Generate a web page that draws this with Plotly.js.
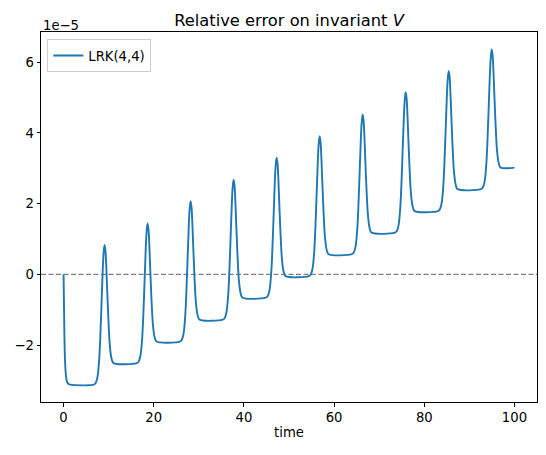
<!DOCTYPE html>
<html>
<head>
<meta charset="utf-8">
<script src="https://cdn.plot.ly/plotly-3.0.1.min.js"></script>
<style>html,body{margin:0;padding:0;background:#fff;}#chart{width:546px;height:455px;}</style>
</head>
<body>
<div id="chart"></div>
<script>
// time values
const time = [
  0, 0.1, 0.2, 0.35, 0.55, 0.8, 1.1, 1.5,
  6.70, 7.10, 7.50, 7.90, 8.30, 8.70, 8.90, 9.10, 9.30, 9.50, 9.90, 10.30, 10.70, 11.10,
  16.24, 16.64, 17.04, 17.44, 17.84, 18.24, 18.44, 18.64, 18.84, 19.04, 19.44, 19.84, 20.24, 20.64,
  25.78, 26.18, 26.58, 26.98, 27.38, 27.78, 27.98, 28.18, 28.38, 28.58, 28.98, 29.38, 29.78, 30.18,
  35.32, 35.72, 36.12, 36.52, 36.92, 37.32, 37.52, 37.72, 37.92, 38.12, 38.52, 38.92, 39.32, 39.72,
  44.86, 45.26, 45.66, 46.06, 46.46, 46.86, 47.06, 47.26, 47.46, 47.66, 48.06, 48.46, 48.86, 49.26,
  54.40, 54.80, 55.20, 55.60, 56.00, 56.40, 56.60, 56.80, 57.00, 57.20, 57.60, 58.00, 58.40, 58.80,
  63.94, 64.34, 64.74, 65.14, 65.54, 65.94, 66.14, 66.34, 66.54, 66.74, 67.14, 67.54, 67.94, 68.34,
  73.48, 73.88, 74.28, 74.68, 75.08, 75.48, 75.68, 75.88, 76.08, 76.28, 76.68, 77.08, 77.48, 77.88,
  83.02, 83.42, 83.82, 84.22, 84.62, 85.02, 85.22, 85.42, 85.62, 85.82, 86.22, 86.62, 87.02, 87.42,
  92.56, 92.96, 93.36, 93.76, 94.16, 94.56, 94.76, 94.96, 95.16, 95.36, 95.76, 96.16, 96.56, 96.96,
  100.0
];
// relative error on V, in units of 1e-5
const relErrorLRK44 = [
  0, -0.9, -1.8, -2.5, -2.88, -3.05, -3.10, -3.12,
  -3.12, -3.08, -2.92, -2.41, -1.26, 0.16, 0.63, 0.83, 0.66, 0.16, -1.14, -2.06, -2.41, -2.51,
  -2.51, -2.47, -2.31, -1.80, -0.65, 0.77, 1.24, 1.44, 1.27, 0.77, -0.53, -1.45, -1.80, -1.90,
  -1.90, -1.86, -1.70, -1.19, -0.03, 1.40, 1.87, 2.07, 1.90, 1.40, 0.09, -0.83, -1.18, -1.28,
  -1.28, -1.24, -1.08, -0.57, 0.58, 2.01, 2.48, 2.68, 2.51, 2.01, 0.71, -0.21, -0.56, -0.66,
  -0.66, -0.62, -0.46, 0.05, 1.20, 2.63, 3.10, 3.30, 3.13, 2.63, 1.32, 0.40, 0.05, -0.05,
  -0.05, -0.01, 0.15, 0.66, 1.81, 3.24, 3.71, 3.91, 3.74, 3.24, 1.94, 1.02, 0.67, 0.57,
  0.57, 0.61, 0.77, 1.28, 2.43, 3.85, 4.32, 4.52, 4.35, 3.85, 2.55, 1.63, 1.28, 1.18,
  1.18, 1.22, 1.38, 1.89, 3.05, 4.48, 4.95, 5.15, 4.98, 4.48, 3.17, 2.24, 1.89, 1.79,
  1.79, 1.83, 1.99, 2.50, 3.65, 5.08, 5.55, 5.75, 5.58, 5.08, 3.78, 2.86, 2.51, 2.41,
  2.41, 2.45, 2.61, 3.12, 4.27, 5.69, 6.16, 6.36, 6.19, 5.69, 4.39, 3.47, 3.12, 3.02,
  3.02
];
const seriesName = "LRK(4,4)";
const xTickVals = [0, 20, 40, 60, 80, 100];
const yTickVals = [-2, 0, 2, 4, 6];
const referenceLevel = 0;
const offsetLabel = "1e\u22125";

const FONT = "DejaVu Sans, Liberation Sans, sans-serif";
const FS = 13.2;

const trace = {
  x: time,
  y: relErrorLRK44,
  type: "scatter",
  mode: "lines",
  name: seriesName,
  line: {color: "#1f77b4", width: 1.9, shape: "spline", smoothing: 1},
  showlegend: true
};

const layout = {
  width: 546, height: 455,
  margin: {l: 41, r: 9, t: 32, b: 53},
  paper_bgcolor: "#fff", plot_bgcolor: "#fff",
  font: {family: FONT, size: FS, color: "#000"},
  title: {
    text: "Relative error on invariant <i>V</i>",
    font: {family: FONT, size: 16.3, color: "#000"},
    x: 0.5, xref: "paper", xanchor: "center",
    y: 1, yref: "paper", yanchor: "bottom",
    pad: {b: 6}
  },
  xaxis: {
    range: [-5, 105],
    tickvals: xTickVals,
    ticks: "outside", ticklen: 3.5, tickwidth: 1, tickcolor: "#000",
    showline: true, linecolor: "#000", linewidth: 1, mirror: true,
    showgrid: false, zeroline: false,
    tickfont: {family: FONT, size: FS, color: "#000"},
    title: {text: "time", font: {family: FONT, size: FS, color: "#000"}, standoff: 3}
  },
  yaxis: {
    range: [-3.61, 6.855],
    tickvals: yTickVals,
    ticks: "outside", ticklen: 3.5, tickwidth: 1, tickcolor: "#000",
    showline: true, linecolor: "#000", linewidth: 1, mirror: true,
    showgrid: false, zeroline: false,
    tickfont: {family: FONT, size: FS, color: "#000"}
  },
  shapes: [{
    type: "line", xref: "paper", x0: 0, x1: 1, yref: "y", y0: referenceLevel, y1: referenceLevel,
    line: {color: "#808080", width: 1.1, dash: "5px,2.5px"}, layer: "below"
  }],
  annotations: [{
    text: offsetLabel, xref: "paper", x: 0, xanchor: "left",
    yref: "paper", y: 1, yanchor: "bottom", yshift: -3,
    showarrow: false, font: {family: FONT, size: FS, color: "#000"}
  }],
  legend: {
    x: 0.0127, xanchor: "left", y: 0.98, yanchor: "top",
    bgcolor: "rgba(255,255,255,0.8)", bordercolor: "#cccccc", borderwidth: 1,
    font: {family: FONT, size: FS, color: "#000"}
  }
};

Plotly.newPlot("chart", [trace], layout, {displayModeBar: false, staticPlot: true});
</script>
</body>
</html>
